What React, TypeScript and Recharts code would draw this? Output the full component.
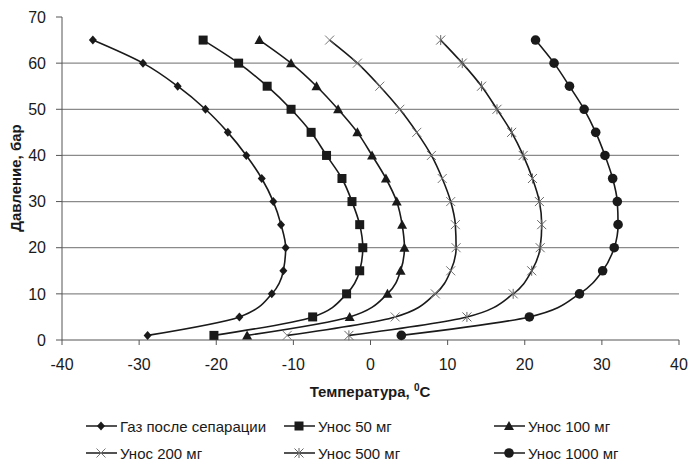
import { LineChart, Line, XAxis, YAxis, ReferenceLine } from 'recharts';

// Pressure levels, bar (shared by all series)
const pressures = [1, 5, 10, 15, 20, 25, 30, 35, 40, 45, 50, 55, 60, 65];

// Temperatures, °C for each pressure level
const gasAfterSep = [-28.9, -17.0, -12.8, -11.3, -11.0, -11.6, -12.6, -14.1, -16.1, -18.5, -21.4, -25.0, -29.5, -36.0];
const carry50 = [-20.3, -7.5, -3.1, -1.4, -1.0, -1.4, -2.4, -3.7, -5.7, -7.7, -10.3, -13.4, -17.1, -21.7];
const carry100 = [-16.0, -2.7, 2.2, 3.9, 4.4, 4.1, 3.4, 2.0, 0.2, -1.7, -4.2, -7.0, -10.3, -14.4];
const carry200 = [-10.8, 3.2, 8.4, 10.4, 11.1, 11.0, 10.4, 9.3, 7.9, 6.0, 3.8, 1.2, -1.7, -5.3];
const carry500 = [-2.8, 12.5, 18.5, 20.9, 22.0, 22.2, 21.9, 21.0, 19.8, 18.3, 16.4, 14.4, 11.9, 9.1];
const carry1000 = [4.0, 20.6, 27.1, 30.1, 31.6, 32.1, 32.0, 31.4, 30.4, 29.2, 27.7, 25.8, 23.8, 21.4];

const xTicks = [-40, -30, -20, -10, 0, 10, 20, 30, 40];
const yTicks = [0, 10, 20, 30, 40, 50, 60, 70];
const gridLines = [10, 20, 30, 40, 50, 60];

const toPoints = (temps: number[]) => temps.map((t, i) => ({ t, p: pressures[i] }));

type Shape = 'diamond' | 'square' | 'triangle' | 'cross' | 'star' | 'circle';

const series: { name: string; temps: number[]; shape: Shape }[] = [
  { name: 'Газ после сепарации', temps: gasAfterSep, shape: 'diamond' },
  { name: 'Унос 50 мг', temps: carry50, shape: 'square' },
  { name: 'Унос 100 мг', temps: carry100, shape: 'triangle' },
  { name: 'Унос 200 мг', temps: carry200, shape: 'cross' },
  { name: 'Унос 500 мг', temps: carry500, shape: 'star' },
  { name: 'Унос 1000 мг', temps: carry1000, shape: 'circle' },
];

const FONT = '"Liberation Sans", Arial, sans-serif';
const INK = '#1a1a1a';

function Marker({ cx, cy, shape }: { cx: number; cy: number; shape: Shape }) {
  switch (shape) {
    case 'diamond':
      return <path d={`M${cx},${cy - 4.5}L${cx + 4},${cy}L${cx},${cy + 4.5}L${cx - 4},${cy}Z`} fill={INK} />;
    case 'square':
      return <rect x={cx - 4.5} y={cy - 4.5} width={9} height={9} fill={INK} />;
    case 'triangle':
      return <path d={`M${cx},${cy - 5}L${cx + 5},${cy + 4}L${cx - 5},${cy + 4}Z`} fill={INK} />;
    case 'cross':
      return (
        <path d={`M${cx - 4.5},${cy - 4.5}L${cx + 4.5},${cy + 4.5}M${cx + 4.5},${cy - 4.5}L${cx - 4.5},${cy + 4.5}`} stroke="#777" strokeWidth={1} />
      );
    case 'star':
      return (
        <path
          d={`M${cx - 4.5},${cy - 4.5}L${cx + 4.5},${cy + 4.5}M${cx + 4.5},${cy - 4.5}L${cx - 4.5},${cy + 4.5}M${cx},${cy - 5}L${cx},${cy + 5}`}
          stroke="#666"
          strokeWidth={1}
        />
      );
    default:
      return <circle cx={cx} cy={cy} r={4.8} fill={INK} />;
  }
}

const XLabel = () => (
  <text x={370} y={397} textAnchor="middle" fontFamily={FONT} fontSize={15} fontWeight="bold" fill={INK}>
    <tspan>Температура, </tspan>
    <tspan dy={-6} fontSize={10}>0</tspan>
    <tspan dy={6}>С</tspan>
  </text>
);

const YLabel = () => (
  <text x={15} y={178} transform="rotate(-90 15 178)" textAnchor="middle" dominantBaseline="central" fontFamily={FONT} fontSize={15} fontWeight="bold" fill={INK}>
    Давление, бар
  </text>
);

const legendCols = [86, 284, 494];
const legendRows = [426, 453];

function LegendBox() {
  return (
    <svg width={689} height={461} style={{ position: 'absolute', left: 0, top: 0, pointerEvents: 'none' }}>
      {series.map((s, i) => {
        const x = legendCols[i % 3];
        const y = legendRows[Math.floor(i / 3)];
        return (
          <g key={s.name}>
            <line x1={x} y1={y} x2={x + 31} y2={y} stroke={INK} strokeWidth={1.5} />
            <Marker cx={x + 15} cy={y} shape={s.shape} />
            <text x={x + 34} y={y} dominantBaseline="central" fontFamily={FONT} fontSize={15} fill={INK}>
              {s.name}
            </text>
          </g>
        );
      })}
    </svg>
  );
}

export default function App() {
  return (
    <div style={{ position: 'absolute', left: 0, top: 0, width: 689, height: 461, background: '#fff' }}>
      <LineChart width={689} height={461} margin={{ top: 17, right: 10, left: 0, bottom: 96 }}>
        {gridLines.map((v) => (
          <ReferenceLine key={v} y={v} stroke="#8a8a8a" strokeWidth={1.2} />
        ))}
        <XAxis
          dataKey="t"
          type="number"
          domain={[-40, 40]}
          ticks={xTicks}
          allowDuplicatedCategory={false}
          height={25}
          tickSize={5}
          tickMargin={14}
          axisLine={{ stroke: '#555' }}
          tickLine={{ stroke: '#555' }}
          tick={{ fontFamily: FONT, fontSize: 16, fill: INK }}
          label={<XLabel />}
        />
        <YAxis
          dataKey="p"
          type="number"
          domain={[0, 70]}
          ticks={yTicks}
          width={62}
          tickSize={6}
          tickMargin={10}
          axisLine={{ stroke: '#555' }}
          tickLine={{ stroke: '#555' }}
          tick={{ fontFamily: FONT, fontSize: 16, fill: INK }}
          label={<YLabel />}
        />
        {series.map((s) => (
          <Line
            key={s.name}
            data={toPoints(s.temps)}
            dataKey="p"
            name={s.name}
            type="monotoneY"
            stroke={INK}
            strokeWidth={1.6}
            isAnimationActive={false}
            dot={(props: any) => <Marker key={`${s.name}-${props.index}`} cx={props.cx} cy={props.cy} shape={s.shape} />}
            activeDot={false}
          />
        ))}
      </LineChart>
      <LegendBox />
    </div>
  );
}
